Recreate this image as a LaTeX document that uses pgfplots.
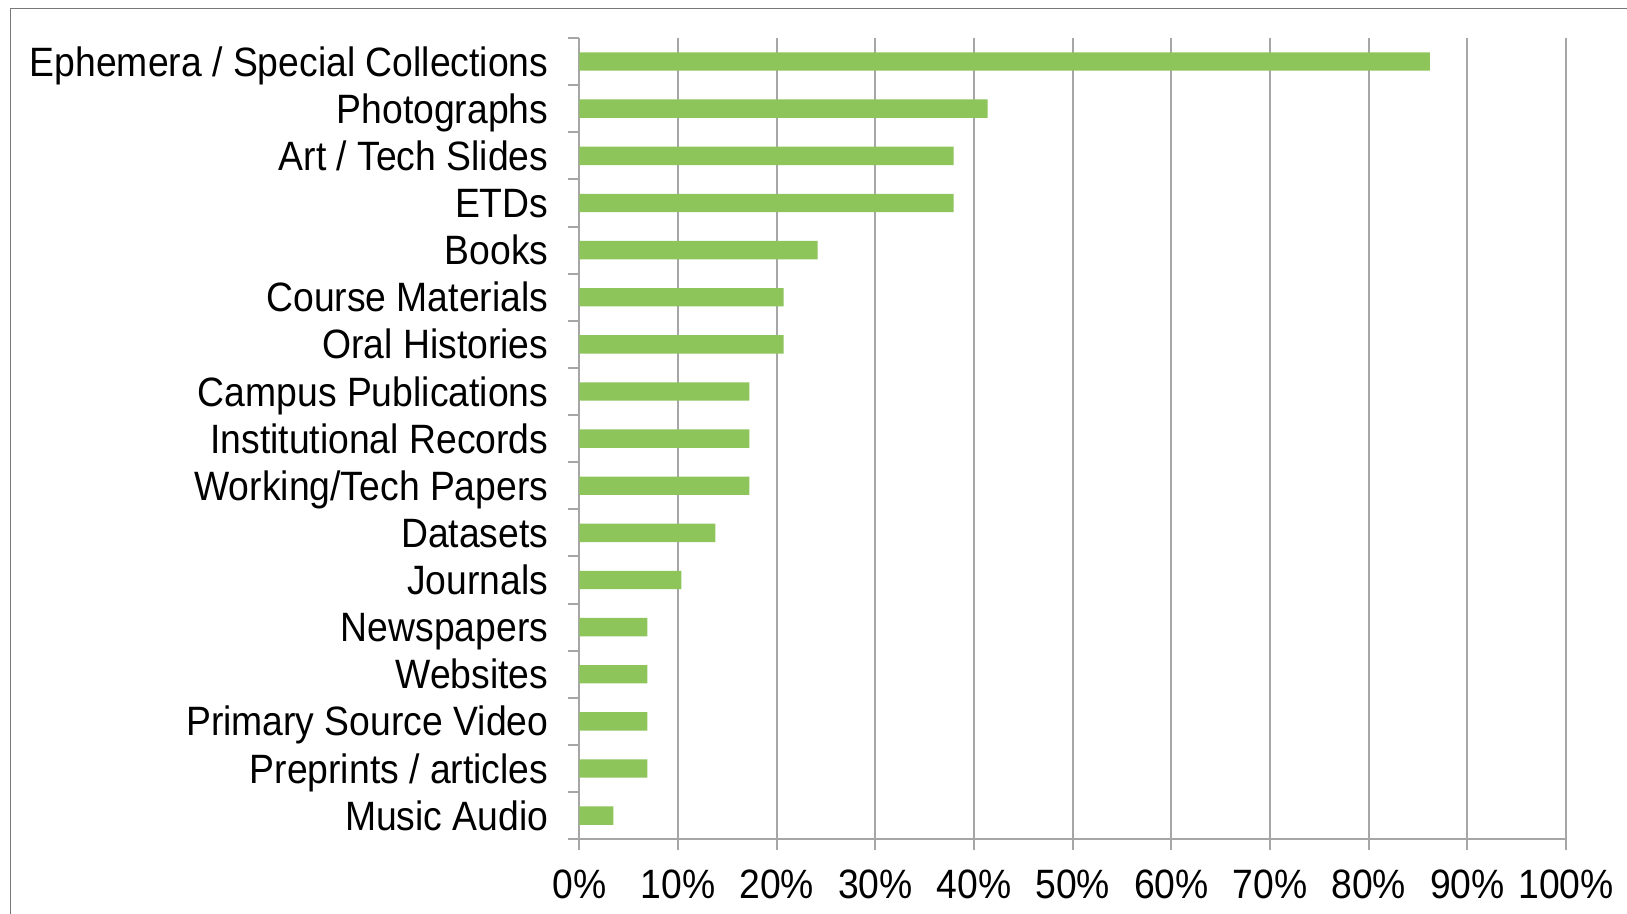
\documentclass[border=0pt]{standalone}
\usepackage{pgfplots}
\pgfplotsset{compat=1.18}
\usepackage{fontspec}
\setmainfont{Liberation Sans}[FakeStretch=0.91]
\definecolor{bargreen}{RGB}{141,197,90}
\definecolor{gridgray}{RGB}{166,166,166}
\definecolor{framegray}{RGB}{120,120,120}
\begin{document}
\begin{tikzpicture}
\useasboundingbox (0,0) rectangle (813.5pt,457pt);
\draw[framegray, line width=0.7pt] (5.3pt,-20pt) -- (5.3pt,452.6pt) -- (840pt,452.6pt);
\begin{axis}[
  at={(289.7pt,37.4pt)}, anchor=south west,
  scale only axis, width=493.3pt, height=400.6pt,
  xmin=0, xmax=100, ymin=-0.5, ymax=16.5,
  axis lines=left,
  axis line style={-, gridgray, line width=1pt},
  xtick={0,10,...,100},
  xticklabel={\pgfmathprintnumber{\tick}\%},
  ytick={-0.5,0.5,1.5,2.5,3.5,4.5,5.5,6.5,7.5,8.5,9.5,10.5,11.5,12.5,13.5,14.5,15.5,16.5},
  yticklabels={Music Audio, Preprints / articles, Primary Source Video, Websites, Newspapers, Journals, Datasets, Working/Tech Papers, Institutional Records, Campus Publications, Oral Histories, Course Materials, Books, ETDs, Art / Tech Slides, Photographs, Ephemera / Special Collections, {}},
  yticklabel style={anchor=base east, yshift=4.5pt, xshift=-6.5pt, font=\fontsize{20.5pt}{24pt}\selectfont},
  xticklabel style={yshift=-6.2pt, font=\fontsize{20.5pt}{24pt}\selectfont},
  tick align=outside,
  major tick length=5.5pt,
  tick style={gridgray, line width=1pt},
  xmajorgrids,
  major grid style={gridgray, line width=1pt},
  /pgf/number format/assume math mode=true,
  clip=false,
]
\addplot[xbar, fill=bargreen, draw=none, bar width=0.39] coordinates {
  (3.45,0) (6.90,1) (6.90,2) (6.90,3) (6.90,4) (10.34,5) (13.79,6)
  (17.24,7) (17.24,8) (17.24,9) (20.69,10) (20.69,11) (24.14,12)
  (37.93,13) (37.93,14) (41.38,15) (86.21,16)
};
\end{axis}
\end{tikzpicture}
\end{document}
